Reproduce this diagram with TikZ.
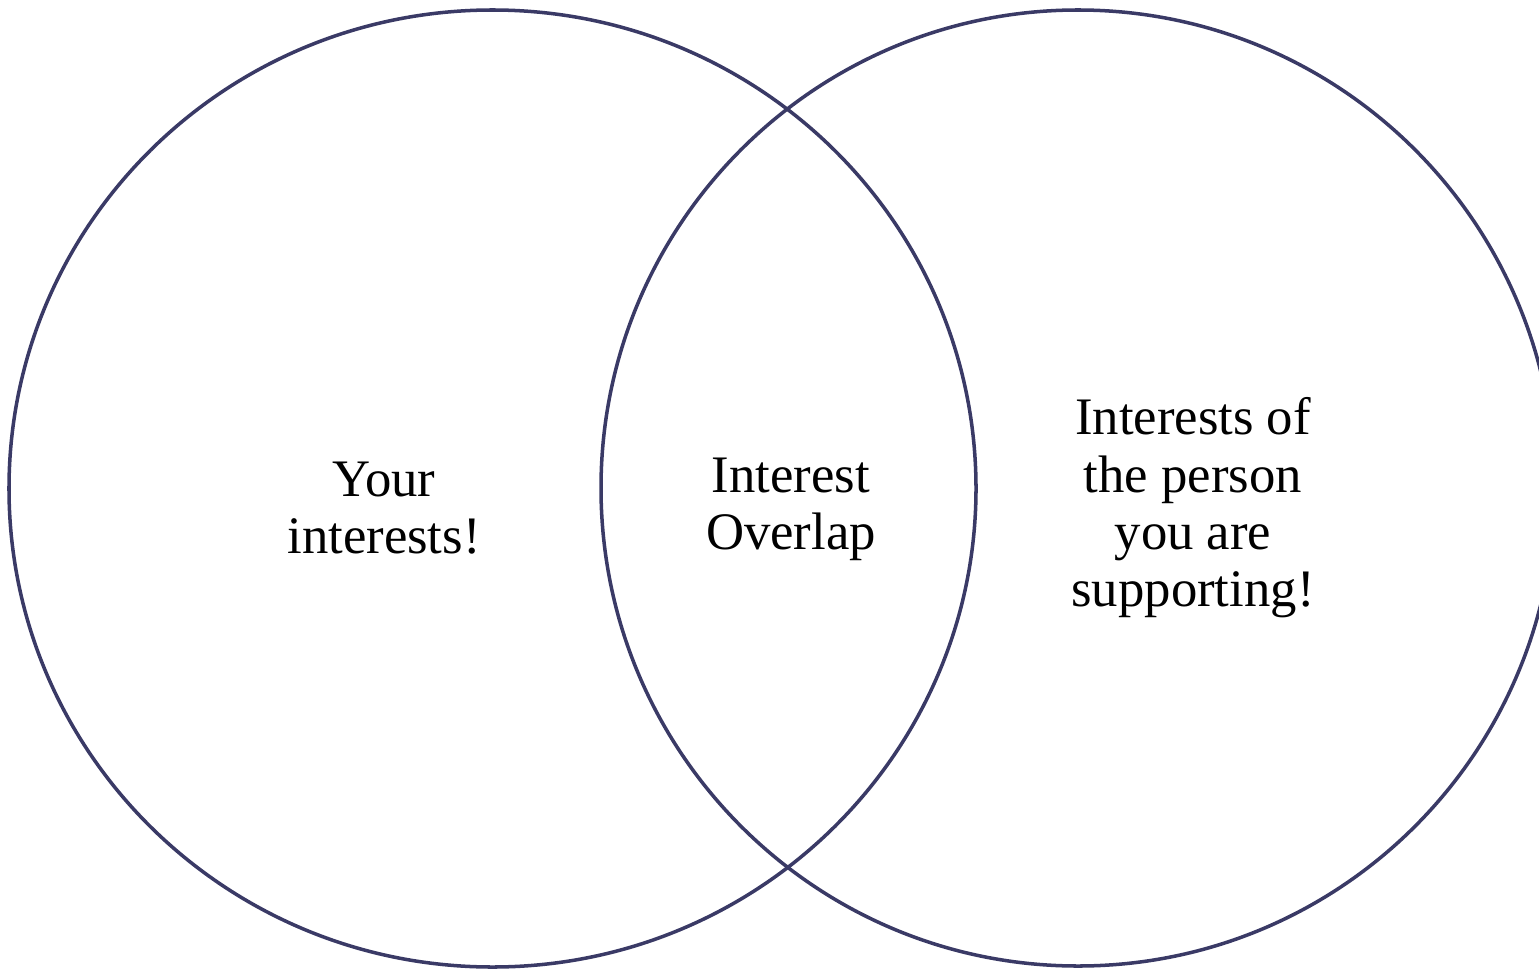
\documentclass[tikz,border=0pt]{standalone}
\usepackage{fontspec}
\setmainfont{Liberation Serif}
\usepackage{tikz}

\definecolor{ringcol}{HTML}{3A3A66}

\begin{document}
\begin{tikzpicture}[thick, ring/.style={draw=ringcol, line width=1pt},
  label/.style={align=center, font=\fontsize{15}{16.3}\selectfont}]
\useasboundingbox (0,0) rectangle (15.39,9.69);
\begin{scope}
\clip (0,0) rectangle (15.39,9.69);
\draw[ring] (4.925,4.805) ellipse (4.835 and 4.785);
\draw[ring] (10.78,4.81) ellipse (4.77 and 4.78);
\end{scope}
\node[label] (Y) at (3.84,4.61) {Your\\interests!};
\node[label] (O) at (7.91,4.60) {Interest\\Overlap};
\node[label] (P) at (11.93,4.61) {Interests of\\the person\\you are\\supporting!};
\end{tikzpicture}
\end{document}
